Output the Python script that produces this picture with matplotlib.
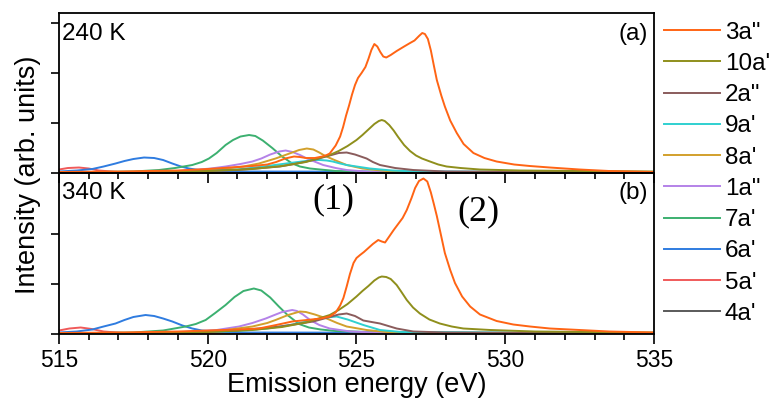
import matplotlib
matplotlib.use('Agg')
import matplotlib.pyplot as plt
from matplotlib.ticker import MultipleLocator

plt.rcParams['font.family'] = ['Liberation Sans', 'DejaVu Sans']

labels = ['3a"', "10a'", '2a"', "9a'", "8a'", '1a"', "7a'", "6a'", "5a'", "4a'"]
colors = ['#ff6414', '#8f8f1c', '#8a5c5c', '#2fd0d0', '#d2a02c',
          '#b482e8', '#3cb070', '#2f7ce0', '#f05a5a', '#5a5a5a']

# ---- 240 K ----
x_3a2_240 = [515, 517, 519, 520, 521, 521.5, 522, 522.3, 522.6, 522.9, 523.1, 523.3, 523.6, 523.85,
             524.0, 524.1, 524.3, 524.45, 524.55, 524.65, 524.75, 524.85, 524.95, 525.05, 525.17,
             525.3, 525.4, 525.5, 525.6, 525.7, 525.8, 525.9, 526.0, 526.15, 526.35, 526.6, 526.8,
             526.95, 527.1, 527.21, 527.3, 527.4, 527.5, 527.6, 527.7, 527.85, 527.97, 528.15,
             528.37, 528.6, 528.93, 529.3, 529.71, 530.3, 530.83, 531.5, 532.5, 533.5, 535]
y_3a2_240 = [0.02, 0.03, 0.05, 0.08, 0.12, 0.14, 0.17, 0.22, 0.29, 0.33, 0.32, 0.3, 0.3, 0.33,
             0.36, 0.39, 0.55, 0.73, 0.92, 1.15, 1.35, 1.57, 1.76, 1.9, 2.0,
             2.12, 2.28, 2.46, 2.58, 2.53, 2.42, 2.33, 2.31, 2.36, 2.44, 2.53, 2.6,
             2.65, 2.74, 2.8, 2.78, 2.68, 2.45, 2.15, 1.86, 1.55, 1.33, 1.05,
             0.8, 0.58, 0.4, 0.3, 0.23, 0.17, 0.14, 0.11, 0.07, 0.04, 0.02]
x_10a_240 = [515, 518, 520, 521.5, 522.5, 523.3, 524.1, 524.4, 524.7, 525.0, 525.2, 525.4, 525.6,
             525.75, 525.85, 525.95, 526.1, 526.25, 526.4, 526.6, 526.8, 527.0, 527.2, 527.47,
             527.75, 528.03, 528.5, 529.15, 530.5, 535]
y_10a_240 = [0.01, 0.02, 0.04, 0.08, 0.14, 0.22, 0.36, 0.44, 0.54, 0.66, 0.76, 0.87, 0.98,
             1.04, 1.06, 1.04, 0.96, 0.85, 0.72, 0.56, 0.44, 0.35, 0.29, 0.23,
             0.17, 0.13, 0.1, 0.07, 0.05, 0.03]
x_2a2_240 = [515, 519, 521, 522.43, 523.0, 523.55, 524.1, 524.4, 524.67, 524.95, 525.34, 525.55,
             525.79, 526.3, 526.91, 528, 535]
y_2a2_240 = [0.0, 0.02, 0.06, 0.13, 0.19, 0.26, 0.35, 0.4, 0.41, 0.37, 0.29, 0.22,
             0.16, 0.1, 0.06, 0.03, 0.01]
x_9a_240 = [515, 519, 521, 522, 522.76, 523.3, 523.55, 523.77, 524.0, 524.2, 524.45, 524.67,
            525.45, 526.2, 527, 535]
y_9a_240 = [0.0, 0.02, 0.07, 0.14, 0.2, 0.24, 0.26, 0.26, 0.25, 0.23, 0.19, 0.16,
            0.09, 0.05, 0.03, 0.01]
x_8a_240 = [515, 519, 520.5, 521.2, 521.72, 522.28, 522.7, 523.07, 523.33, 523.55, 523.75,
            523.95, 524.3, 524.67, 525.2, 526, 527, 535]
y_8a_240 = [0.0, 0.02, 0.08, 0.13, 0.19, 0.29, 0.38, 0.46, 0.49, 0.47, 0.41,
            0.34, 0.25, 0.16, 0.09, 0.04, 0.02, 0.01]
x_1a2_240 = [515, 518.5, 519.5, 520.1, 520.6, 521.1, 521.5, 521.8, 522.1, 522.4, 522.62, 522.85,
             523.1, 523.3, 523.5, 523.88, 524.3, 524.67, 525.5, 535]
y_1a2_240 = [0.0, 0.02, 0.06, 0.09, 0.13, 0.18, 0.23, 0.29, 0.37, 0.43, 0.45, 0.42,
             0.36, 0.3, 0.25, 0.16, 0.1, 0.06, 0.02, 0.01]
x_7a_240 = [515, 517.5, 518.36, 518.9, 519.48, 519.8, 520.04, 520.3, 520.6, 520.85, 521.1,
            521.39, 521.6, 521.85, 522.17, 522.5, 522.84, 523.1, 523.44, 524.3, 526, 535]
y_7a_240 = [0.01, 0.03, 0.06, 0.1, 0.16, 0.22, 0.29, 0.4, 0.56, 0.66, 0.73,
            0.76, 0.74, 0.65, 0.5, 0.33, 0.19, 0.13, 0.09, 0.04, 0.02, 0.01]
x_6a_240 = [515, 515.6, 516.12, 516.5, 516.9, 517.2, 517.5, 517.86, 518.2, 518.5, 518.81,
            519.1, 519.37, 519.7, 520.04, 521, 535]
y_6a_240 = [0.03, 0.05, 0.08, 0.13, 0.19, 0.24, 0.28, 0.31, 0.3, 0.26, 0.19,
            0.13, 0.09, 0.06, 0.05, 0.03, 0.02]
x_5a_240 = [515, 515.3, 515.67, 516.0, 516.34, 517, 518, 535]
y_5a_240 = [0.07, 0.1, 0.11, 0.09, 0.05, 0.02, 0.01, 0.01]
x_4a_240 = [515, 520, 525, 530, 535]
y_4a_240 = [0.01, 0.01, 0.02, 0.01, 0.0]

# ---- 340 K ----
x_3a2_340 = [515, 517, 519, 520, 521, 521.72, 522.3, 522.84, 523.33, 523.8, 524.1, 524.3,
             524.45, 524.56, 524.67, 524.78, 524.9, 525.0, 525.12, 525.25, 525.4, 525.55,
             525.73, 525.85, 525.96, 526.1, 526.25, 526.4, 526.55, 526.69, 526.85, 526.97,
             527.1, 527.25, 527.38, 527.5, 527.6, 527.7, 527.85, 527.97, 528.15, 528.31,
             528.55, 528.82, 529.15, 529.71, 530.27, 530.83, 531.5, 532.5, 533.5, 535]
y_3a2_340 = [0.02, 0.03, 0.05, 0.07, 0.09, 0.11, 0.18, 0.25, 0.28, 0.31, 0.35, 0.43,
             0.57, 0.72, 0.95, 1.2, 1.42, 1.52, 1.58, 1.64, 1.72, 1.8,
             1.88, 1.85, 1.83, 1.95, 2.08, 2.2, 2.32, 2.48, 2.72, 2.92,
             3.06, 3.11, 3.05, 2.83, 2.6, 2.36, 1.95, 1.62, 1.28, 1.02,
             0.75, 0.55, 0.39, 0.26, 0.19, 0.15, 0.11, 0.08, 0.05, 0.03]
x_10a_340 = [515, 518, 520, 521.5, 522.5, 523.3, 524.1, 524.4, 524.7, 525.0, 525.2, 525.4,
             525.6, 525.75, 525.85, 526.0, 526.15, 526.35, 526.5, 526.69, 526.9, 527.13,
             527.45, 527.8, 528.2, 528.59, 529.5, 531, 535]
y_10a_340 = [0.01, 0.02, 0.04, 0.08, 0.14, 0.23, 0.38, 0.48, 0.6, 0.75, 0.86, 0.96,
             1.07, 1.13, 1.15, 1.14, 1.1, 0.98, 0.85, 0.68, 0.53, 0.41,
             0.29, 0.21, 0.15, 0.11, 0.08, 0.05, 0.03]
x_2a2_340 = [515, 519, 521, 522.43, 523.0, 523.55, 524.1, 524.4, 524.67, 524.95, 525.23,
             525.79, 526.35, 526.91, 528, 535]
y_2a2_340 = [0.0, 0.02, 0.07, 0.15, 0.2, 0.25, 0.34, 0.39, 0.41, 0.36, 0.27,
             0.21, 0.11, 0.05, 0.03, 0.01]
x_9a_340 = [515, 519, 521, 522, 522.76, 523.55, 524.0, 524.33, 524.7, 525.23, 525.79, 526.5, 535]
y_9a_340 = [0.0, 0.02, 0.06, 0.11, 0.18, 0.28, 0.33, 0.35, 0.29, 0.18, 0.08, 0.04, 0.01]
x_8a_340 = [515, 519, 520.5, 521.5, 522.0, 522.28, 522.7, 523.1, 523.3, 523.6, 524.0, 524.35,
            524.67, 525.34, 526, 527, 535]
y_8a_340 = [0.0, 0.02, 0.07, 0.15, 0.22, 0.28, 0.38, 0.45, 0.44, 0.39, 0.31, 0.22,
            0.15, 0.08, 0.04, 0.02, 0.01]
x_1a2_340 = [515, 518.5, 519.5, 520.3, 521.05, 521.5, 521.95, 522.2, 522.5, 522.84, 523.0,
             523.2, 523.44, 523.75, 524.1, 524.8, 526, 535]
y_1a2_340 = [0.0, 0.02, 0.05, 0.08, 0.15, 0.22, 0.31, 0.37, 0.44, 0.48, 0.46,
             0.39, 0.28, 0.18, 0.11, 0.05, 0.02, 0.01]
x_7a_340 = [515, 517.5, 518.5, 519.26, 519.6, 519.93, 520.25, 520.6, 520.9, 521.2, 521.55,
            521.8, 522.1, 522.39, 522.7, 523.07, 523.4, 523.8, 524.3, 526, 535]
y_7a_340 = [0.01, 0.03, 0.07, 0.15, 0.2, 0.28, 0.42, 0.58, 0.74, 0.86, 0.91,
            0.87, 0.73, 0.55, 0.37, 0.2, 0.13, 0.09, 0.06, 0.03, 0.01]
x_6a_340 = [515, 515.6, 516.12, 516.5, 516.9, 517.2, 517.5, 517.91, 518.2, 518.5, 518.81,
            519.15, 519.48, 519.8, 520.2, 521, 535]
y_6a_340 = [0.03, 0.05, 0.09, 0.15, 0.21, 0.28, 0.34, 0.38, 0.36, 0.31, 0.25,
            0.17, 0.11, 0.07, 0.05, 0.03, 0.02]
x_5a_340 = [515, 515.35, 515.73, 516.1, 516.5, 517.2, 518, 535]
y_5a_340 = [0.07, 0.11, 0.13, 0.1, 0.05, 0.02, 0.01, 0.01]
x_4a_340 = [515, 520, 525, 530, 535]
y_4a_340 = [0.01, 0.01, 0.02, 0.01, 0.0]

curves_240 = [(x_3a2_240, y_3a2_240), (x_10a_240, y_10a_240), (x_2a2_240, y_2a2_240),
              (x_9a_240, y_9a_240), (x_8a_240, y_8a_240), (x_1a2_240, y_1a2_240),
              (x_7a_240, y_7a_240), (x_6a_240, y_6a_240), (x_5a_240, y_5a_240),
              (x_4a_240, y_4a_240)]
curves_340 = [(x_3a2_340, y_3a2_340), (x_10a_340, y_10a_340), (x_2a2_340, y_2a2_340),
              (x_9a_340, y_9a_340), (x_8a_340, y_8a_340), (x_1a2_340, y_1a2_340),
              (x_7a_340, y_7a_340), (x_6a_340, y_6a_340), (x_5a_340, y_5a_340),
              (x_4a_340, y_4a_340)]

fig = plt.figure(figsize=(7.76, 3.98), dpi=100)
ax1 = fig.add_axes([0.076, 0.5653, 0.7668, 0.402])
ax2 = fig.add_axes([0.076, 0.1608, 0.7668, 0.4045])
ax2.patch.set_alpha(0)

handles = []
for ax, curves in ((ax1, curves_240), (ax2, curves_340)):
    for i in range(len(curves) - 1, -1, -1):
        xs, ys = curves[i]
        ln, = ax.plot(xs, ys, color=colors[i], lw=1.4, solid_joinstyle='round')
        if ax is ax1:
            handles.insert(0, ln)
    ax.set_xlim(515, 535)
    ax.xaxis.set_major_locator(MultipleLocator(5))
    ax.xaxis.set_minor_locator(MultipleLocator(1))
    ax.tick_params(axis='x', which='major', length=7, width=1.2, direction='out', labelsize=16.5)
    ax.tick_params(axis='x', which='minor', length=4, width=1.2, direction='out')
    ax.tick_params(axis='y', which='major', length=6, width=1.2, direction='out', labelleft=False)
    for s in ax.spines.values():
        s.set_linewidth(1.3)

ax1.set_ylim(0, 3.2)
ax1.set_yticks([0, 1, 2, 3])
ax1.tick_params(axis='x', labelbottom=False)
ax2.set_ylim(0, 3.22)
ax2.set_yticks([0, 1, 2])

ax1.text(0.005, 0.87, '240 K', transform=ax1.transAxes, fontsize=17.5, va='center', ha='left')
ax1.text(0.99, 0.87, '(a)', transform=ax1.transAxes, fontsize=17.5, va='center', ha='right')
ax2.text(0.005, 0.875, '340 K', transform=ax2.transAxes, fontsize=17.5, va='center', ha='left')
ax2.text(0.99, 0.875, '(b)', transform=ax2.transAxes, fontsize=17.5, va='center', ha='right')
fig.text(0.430, 0.497, '(1)', fontsize=26, family='Liberation Serif', ha='center', va='center')
fig.text(0.616, 0.467, '(2)', fontsize=26, family='Liberation Serif', ha='center', va='center')

ax2.set_xlabel('Emission energy (eV)', fontsize=19.5, labelpad=0)
fig.text(0.036, 0.56, 'Intensity (arb. units)', fontsize=19.5, rotation=90, ha='center', va='center')

fig.legend(handles, labels, loc='upper left', bbox_to_anchor=(0.843, 0.97), frameon=False,
           fontsize=17.5, handlelength=2.3, handletextpad=0.2, labelspacing=0.38,
           borderaxespad=0)

fig.savefig('out.png', dpi=100)
